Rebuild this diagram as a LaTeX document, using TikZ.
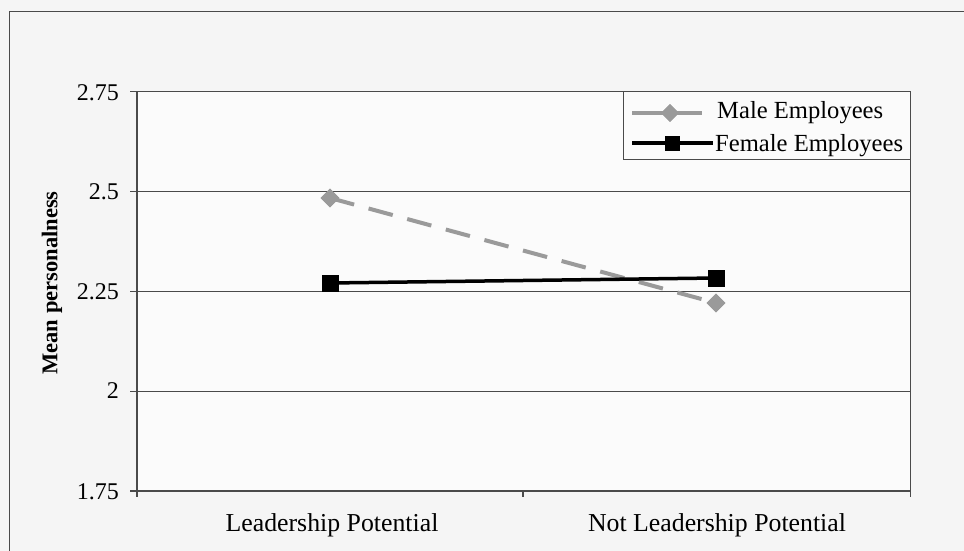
\documentclass[tikz,border=0pt]{standalone}
\usepackage{fontspec}
\setmainfont{Liberation Serif}
\usetikzlibrary{shapes.geometric}
\definecolor{paper}{HTML}{F5F5F5}
\definecolor{maleg}{HTML}{9A9A9A}
\definecolor{axisc}{HTML}{4A4A4A}
\begin{document}
\begin{tikzpicture}[x=1pt,y=-1pt,
  gridline/.style={draw=axisc,line width=1pt},
  axisline/.style={draw=axisc,line width=1.2pt},
  ticklbl/.style={anchor=east,inner sep=0pt,font=\fontsize{24}{28}\selectfont},
  catlbl/.style={anchor=base,inner sep=0pt,font=\fontsize{25.8}{30}\selectfont},
  leglbl/.style={anchor=base west,inner sep=0pt,font=\fontsize{24.6}{29}\selectfont},
  maleline/.style={draw=maleg,line width=4pt,dash pattern=on 25pt off 15pt},
  malelegline/.style={draw=maleg,line width=4pt},
  femline/.style={draw=black,line width=3.5pt},
  malemark/.style={shape=diamond,fill=maleg,minimum width=19pt,minimum height=19pt,inner sep=0pt},
  femmark/.style={shape=rectangle,fill=black,minimum size=17pt,inner sep=0pt},
  frameline/.style={draw=axisc,line width=1pt}]
\useasboundingbox (0,0) rectangle (964,551);
\fill[paper] (0,0) rectangle (964,551);
% outer frame (top and left visible)
\draw[frameline] (964,12) -- (9,12) -- (9,551);
% plot area background
\fill[white!60!paper] (137,91) rectangle (910,491);
% gridlines
\draw[gridline] (130,91) -- (910,91);
\draw[gridline] (130,191) -- (910,191);
\draw[gridline] (130,291) -- (910,291);
\draw[gridline] (130,391) -- (910,391);
\draw[axisline] (130,491) -- (910,491);
% axes
\draw[axisline] (137,91) -- (137,491);
\draw[gridline] (910,91) -- (910,497);
\draw[axisline] (523,491) -- (523,497);
\draw[axisline] (137,491) -- (137,497);
% tick labels
\node[ticklbl] (t275) at (119,93) {2.75};
\node[ticklbl] (t250) at (119,192) {2.5};
\node[ticklbl] (t225) at (119,292) {2.25};
\node[ticklbl] (t200) at (119,391) {2};
\node[ticklbl] (t175) at (119,492) {1.75};
% category labels
\node[catlbl] (c1) at (332,531) {Leadership Potential};
\node[catlbl] (c2) at (717,531) {Not Leadership Potential};
% y label
\node[rotate=90,inner sep=0pt,font=\bfseries\fontsize{22.5}{26}\selectfont] (ylab) at (52,283) {Mean personalness};
% data
\node[malemark] (m1) at (330,198) {};
\node[malemark] (m2) at (716,303) {};
\node[femmark] (f1) at (330,283) {};
\node[femmark] (f2) at (716,278) {};
\draw[maleline] (m1.center) -- (m2.center);
\node[malemark] at (m1) {};
\node[malemark] at (m2) {};
\draw[femline] (f1.center) -- (f2.center);
\node[femmark] at (f1) {};
\node[femmark] at (f2) {};
% legend
\draw[draw=axisc,line width=1pt,fill=white!60!paper] (623,91) rectangle (910,159);
\coordinate (lm1) at (632,113);
\coordinate (lm2) at (702,113);
\node[malemark,minimum width=18pt,minimum height=18pt] (lmm) at (670,113) {};
\draw[malelegline] (lm1) -- (lmm.center) -- (lm2);
\node[malemark,minimum width=18pt,minimum height=18pt] at (lmm) {};
\coordinate (lf1) at (632,143);
\coordinate (lf2) at (713,143);
\node[femmark,minimum size=15pt] (lfm) at (672,143) {};
\draw[femline] (lf1) -- (lfm.center) -- (lf2);
\node[femmark,minimum size=15pt] at (lfm) {};
\node[leglbl] (lt1) at (717,118) {Male Employees};
\node[leglbl] (lt2) at (715,151) {Female Employees};
\end{tikzpicture}
\end{document}
